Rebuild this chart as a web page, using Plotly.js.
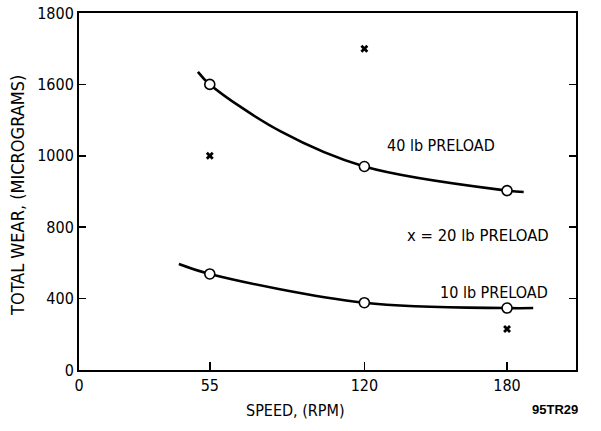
<!DOCTYPE html>
<html>
<head>
<meta charset="utf-8">
<script src="https://cdn.plot.ly/plotly-3.0.1.min.js"></script>
<style>html,body{margin:0;padding:0;background:#fff;}#chart{width:601px;height:431px;}</style>
</head>
<body>
<div id="chart"></div>
<script>
// 40 lb preload: measured points (open circles) and the drawn curve
const speed40 = [55, 120, 180];
const wear40 = [1600, 1140, 1005];
const curve40X = [50, 55, 85, 120, 180, 187];
const curve40Y = [1670, 1600, 1335, 1140, 1005, 997];

// 10 lb preload
const speed10 = [55, 120, 180];
const wear10 = [538, 377, 347];
const curve10X = [42, 55, 120, 180, 191];
const curve10Y = [594, 538, 377, 347, 347];

// 20 lb preload (x markers)
const speed20 = [55, 120, 180];
const wear20 = [1200, 1800, 230];

// axis ticks (labels as printed)
const xTickVals = [0, 55, 120, 180];
const xTickText = ["0", "55", "120", "180"];
const yTickVals = [0, 400, 800, 1200, 1600, 2000];
const yTickText = ["0", "400", "800", "1000", "1600", "1800"];

const font = "Liberation Sans Narrow, DejaVu Sans Condensed, Arial Narrow, sans-serif";

const traces = [
  {x: curve40X, y: curve40Y, mode: "lines", line: {color: "#000", width: 2.6, shape: "spline", smoothing: 1}, hoverinfo: "skip"},
  {x: curve10X, y: curve10Y, mode: "lines", line: {color: "#000", width: 2.6, shape: "spline", smoothing: 1}, hoverinfo: "skip"},
  {x: speed40, y: wear40, mode: "markers", marker: {symbol: "circle", size: 10, color: "#fff", line: {color: "#000", width: 1.6}}},
  {x: speed10, y: wear10, mode: "markers", marker: {symbol: "circle", size: 10, color: "#fff", line: {color: "#000", width: 1.6}}},
  {x: speed20, y: wear20, mode: "markers", marker: {symbol: "x", size: 7, color: "#000", line: {width: 0}}}
];

const layout = {
  width: 601, height: 431,
  margin: {l: 79, r: 25, t: 13, b: 61},
  showlegend: false,
  paper_bgcolor: "#fff", plot_bgcolor: "#fff",
  font: {family: font, color: "#000", size: 15},
  xaxis: {
    range: [0, 209], showgrid: false, zeroline: false,
    showline: true, linecolor: "#000", linewidth: 2, mirror: true,
    ticks: "inside", ticklen: 8, tickwidth: 1.5, tickcolor: "#000",
    tickmode: "array", tickvals: xTickVals, ticktext: xTickText,
    tickfont: {family: font, size: 16}
  },
  yaxis: {
    range: [0, 2000], showgrid: false, zeroline: false,
    showline: true, linecolor: "#000", linewidth: 2, mirror: "ticks",
    ticks: "inside", ticklen: 7, tickwidth: 1.5, tickcolor: "#000",
    tickmode: "array", tickvals: yTickVals, ticktext: yTickText,
    tickfont: {family: font, size: 16}
  },
  annotations: [
    {x: 441, y: 145, text: "40 lb PRELOAD", showarrow: false, font: {family: font, size: 16}},
    {x: 478, y: 235, text: "x = 20 lb PRELOAD", showarrow: false, font: {family: font, size: 16.5}},
    {x: 494, y: 292, text: "10 lb PRELOAD", showarrow: false, font: {family: font, size: 16}},
    {x: 295, y: 410, text: "SPEED, (RPM)", showarrow: false, font: {family: font, size: 16}},
    {x: 18, y: 196, text: "TOTAL WEAR, (MICROGRAMS)", textangle: -90, showarrow: false, font: {family: font, size: 18}},
    {x: 555, y: 409, text: "<b>95TR29</b>", showarrow: false, font: {family: "Liberation Sans, Arial, sans-serif", size: 13}}
  ]
};
// annotations are positioned by pixel; convert to paper coords of the plot area
const pl = 79, pw = 601 - 79 - 25, pt = 13, ph = 431 - 13 - 61;
layout.annotations.forEach(a => {
  a.xref = "paper"; a.yref = "paper";
  a.xanchor = "center"; a.yanchor = "middle";
  a.x = (a.x - pl) / pw; a.y = 1 - (a.y - pt) / ph;
});

Plotly.newPlot("chart", traces, layout, {staticPlot: true, displayModeBar: false});
</script>
</body>
</html>
